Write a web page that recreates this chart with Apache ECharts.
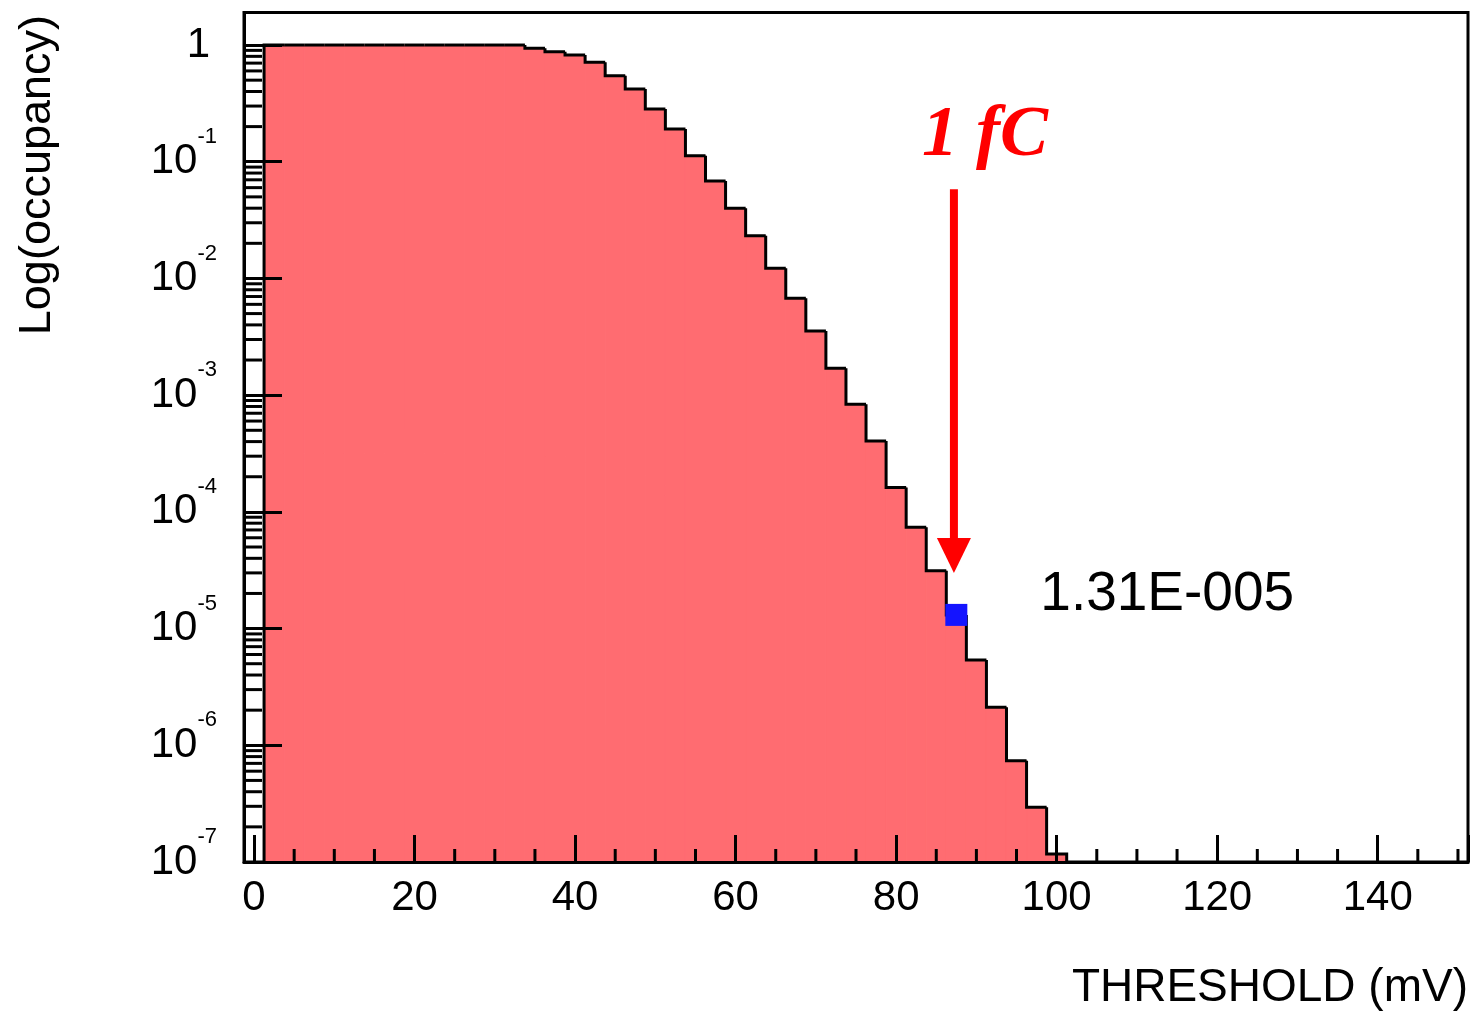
<!DOCTYPE html>
<html>
<head>
<meta charset="utf-8">
<script src="https://cdn.jsdelivr.net/npm/echarts@6/dist/echarts.min.js"></script>
<style>
html,body{margin:0;padding:0;background:#fff;}
#chart{width:1475px;height:1011px;}
</style>
</head>
<body>
<div id="chart"></div>
<script>
// ---------------- data ----------------
const BIN_CENTERS = [2.5, 5, 7.5, 10, 12.5, 15, 17.5, 20, 22.5, 25, 27.5, 30, 32.5,
  35, 37.5, 40, 42.5, 45, 47.5, 50, 52.5, 55, 57.5, 60, 62.5, 65, 67.5, 70, 72.5,
  75, 77.5, 80, 82.5, 85, 87.5, 90, 92.5, 95, 97.5, 100];
const OCCUPANCY = [1, 1, 1, 1, 1, 1, 1, 1, 1, 1, 1, 1, 1,
  0.937, 0.876, 0.821, 0.711, 0.546, 0.42, 0.283, 0.1906, 0.1126, 0.0684, 0.0399,
  0.0232, 0.0122, 0.00676, 0.00354, 0.0017, 0.000834, 0.000405, 0.000162,
  7.37e-5, 3.13e-5, 1.31e-5, 5.38e-6, 2.12e-6, 7.38e-7, 2.94e-7, 1.17e-7];
const X_TICK_LABELS = ['0', '20', '40', '60', '80', '100', '120', '140'];
const X_MINOR_TICKS = [5, 10, 15, 25, 30, 35, 45, 50, 55, 65, 70, 75, 85, 90, 95,
  105, 110, 115, 125, 130, 135, 145, 150];
const Y_DECADES = [-7, -6, -5, -4, -3, -2, -1];
const Y_MINOR_MULT = [2, 3, 4, 5, 6, 7, 8, 9];
const MARKER_POINT = [87.5, 1.31e-5];
const MARKER_LABEL = '1.31E-005';
const ARROW_POINT = [87.2, 0.058, 3.0e-5]; // x, top value, tip value
const ARROW_LABEL = '1 fC';
const X_TITLE = 'THRESHOLD (mV)';
const Y_TITLE = 'Log(occupancy)';

// ---------------- settings ----------------
const BIN_W = 2.5;
const X_MIN = -1.25, X_MAX = 151.25;
const Y_MIN = 1e-7, Y_MAX = 1.9;
const FILL = '#ff6c71';
const FONT = 'Liberation Sans, Arial, sans-serif';

const yMinorTicks = [];
Y_DECADES.forEach(e => Y_MINOR_MULT.forEach(m => yMinorTicks.push([X_MIN, m * Math.pow(10, e)])));
const xMinorTicks = X_MINOR_TICKS.map(v => [v, Y_MIN]);
const histData = BIN_CENTERS.map((c, i) => [c, OCCUPANCY[i]]);

const chart = echarts.init(document.getElementById('chart'), null, {renderer: 'canvas'});

const option = {
  animation: false,
  backgroundColor: '#ffffff',
  grid: {
    left: 244, top: 12.5, width: 1224, height: 849.5,
    show: true, borderColor: '#000', borderWidth: 3, backgroundColor: 'transparent',
    containLabel: false, outerBoundsMode: 'none'
  },
  xAxis: {
    type: 'value', min: X_MIN, max: X_MAX, splitNumber: 7, z: 10,
    axisLine: {show: true, onZero: false, lineStyle: {color: '#000', width: 3}},
    axisTick: {show: true, inside: true, length: 27, lineStyle: {color: '#000', width: 3}},
    minorTick: {show: false},
    splitLine: {show: false},
    axisLabel: {
      show: true, margin: 15, fontSize: 42, fontFamily: FONT, color: '#000',
      showMinLabel: true, showMaxLabel: true,
      formatter: v => {
        const s = String(Math.round(v));
        return (Math.abs(v - Math.round(v)) < 1e-6 && X_TICK_LABELS.includes(s)) ? s : '';
      }
    }
  },
  yAxis: {
    type: 'log', logBase: 10, min: Y_MIN, max: Y_MAX, z: 10,
    axisLine: {show: true, onZero: false, lineStyle: {color: '#000', width: 3}},
    axisTick: {show: true, inside: true, length: 38, lineStyle: {color: '#000', width: 3}},
    minorTick: {show: false},
    splitLine: {show: false},
    axisLabel: {
      show: true, margin: 27,
      formatter: v => {
        const l = Math.log10(v);
        const e = Math.round(l);
        if (Math.abs(l - e) > 1e-6) return '';
        if (e === 0) return '{b|1}{g|}';
        return '{b|10}{s|' + e + '}';
      },
      rich: {
        b: {fontSize: 42, fontFamily: FONT, color: '#000', lineHeight: 72},
        s: {fontSize: 22, fontFamily: FONT, color: '#000', lineHeight: 22, verticalAlign: 'top'},
        g: {width: 7}
      }
    }
  },
  graphic: [
    {
      type: 'text', x: 38, y: 15, rotation: Math.PI / 2,
      style: {text: Y_TITLE, fontSize: 45, fontFamily: FONT, fill: '#000', align: 'right', verticalAlign: 'middle'}
    },
    {
      type: 'text', x: 1468, y: 988,
      style: {text: X_TITLE, fontSize: 46, fontFamily: FONT, fill: '#000', align: 'right', verticalAlign: 'middle'}
    }
  ],
  series: [
    {
      name: 'fill', type: 'custom', z: 2, data: histData,
      renderItem: (params, api) => {
        const c = api.value(0), v = api.value(1);
        const p0 = api.coord([c - BIN_W / 2, v]);
        const p1 = api.coord([c + BIN_W / 2, Y_MIN]);
        return {
          type: 'rect',
          shape: {x: p0[0], y: p0[1], width: p1[0] - p0[0], height: p1[1] - p0[1]},
          style: {fill: FILL, stroke: FILL, lineWidth: 1}
        };
      }
    },
    {
      name: 'outline', type: 'custom', z: 3, data: histData,
      renderItem: (params, api) => {
        const i = params.dataIndex;
        const c = api.value(0), v = api.value(1);
        const prev = i === 0 ? Y_MIN : OCCUPANCY[i - 1];
        const pts = [
          api.coord([c - BIN_W / 2, prev]),
          api.coord([c - BIN_W / 2, v]),
          api.coord([c + BIN_W / 2, v])
        ];
        if (i === OCCUPANCY.length - 1) pts.push(api.coord([c + BIN_W / 2, Y_MIN]));
        return {type: 'polyline', shape: {points: pts}, style: {stroke: '#000', lineWidth: 3, fill: null}};
      }
    },
    {
      name: 'yMinor', type: 'custom', z: 11, data: yMinorTicks,
      renderItem: (params, api) => {
        const p = api.coord([api.value(0), api.value(1)]);
        return {type: 'line', shape: {x1: p[0], y1: p[1], x2: p[0] + 18, y2: p[1]}, style: {stroke: '#000', lineWidth: 3}};
      }
    },
    {
      name: 'xMinor', type: 'custom', z: 11, data: xMinorTicks,
      renderItem: (params, api) => {
        const p = api.coord([api.value(0), api.value(1)]);
        return {type: 'line', shape: {x1: p[0], y1: p[1], x2: p[0], y2: p[1] - 13}, style: {stroke: '#000', lineWidth: 3}};
      }
    },
    {
      name: 'marker', type: 'scatter', z: 5, data: [MARKER_POINT],
      symbol: 'rect', symbolSize: 22, itemStyle: {color: '#1414ff', opacity: 1},
      label: {
        show: true, formatter: MARKER_LABEL, position: 'right', distance: 73, offset: [0, -20],
        fontSize: 55, fontFamily: FONT, color: '#000', opacity: 1
      }
    },
    {
      name: 'arrow', type: 'custom', z: 6, data: [ARROW_POINT],
      renderItem: (params, api) => {
        const x = api.value(0);
        const top = api.coord([x, api.value(1)]);
        const tip = api.coord([x, api.value(2)]);
        const headH = 35, headW = 34;
        return {
          type: 'group',
          children: [
            {type: 'rect', shape: {x: top[0] - 4, y: top[1], width: 8, height: tip[1] - headH - top[1] + 1}, style: {fill: '#ff0000'}},
            {type: 'polygon', shape: {points: [[tip[0] - headW / 2, tip[1] - headH], [tip[0] + headW / 2, tip[1] - headH], [tip[0], tip[1]]]}, style: {fill: '#ff0000'}},
            {type: 'text', x: top[0] + 31, y: top[1] - 53,
              style: {text: ARROW_LABEL, fontSize: 72, fontWeight: 'bold', fontStyle: 'italic',
                fontFamily: 'Liberation Serif, Times New Roman, serif', fill: '#ff0000', align: 'center', verticalAlign: 'middle'}}
          ]
        };
      }
    }
  ]
};
chart.setOption(option);
</script>
</body>
</html>
